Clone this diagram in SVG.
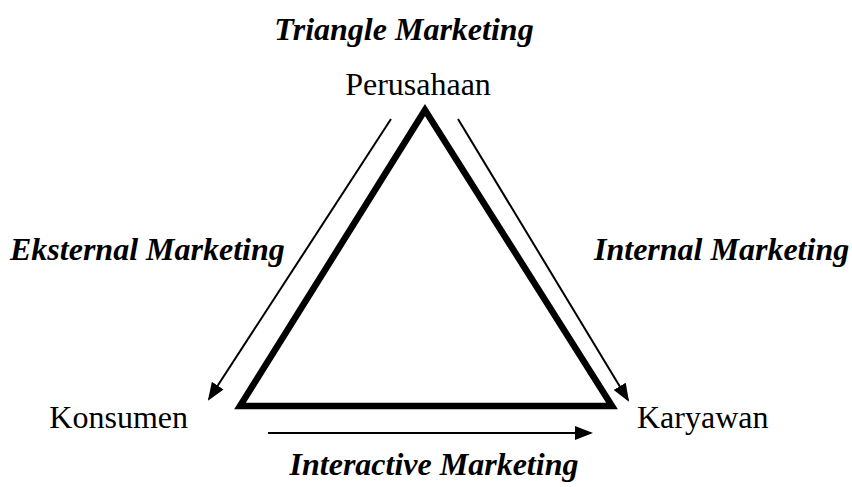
<svg xmlns="http://www.w3.org/2000/svg" width="852" height="487" viewBox="0 0 852 487">
  <style>
    .title { font-family: "Liberation Serif", "Times New Roman", serif; font-size: 32px; font-weight: bold; font-style: italic; fill: #000; }
    .label { font-family: "Liberation Serif", "Times New Roman", serif; font-size: 32px; fill: #000; }
    .arrow { stroke: #000; stroke-width: 2; fill: none; marker-end: url(#head); }
  </style>
  <defs>
    <marker id="head" markerWidth="9" markerHeight="7" refX="8" refY="3.5" orient="auto" markerUnits="strokeWidth">
      <path d="M0,0 L9,3.5 L0,7 Z" fill="#000"/>
    </marker>
  </defs>
  <rect width="852" height="487" fill="#fff"/>

  <text class="title" x="404" y="40" text-anchor="middle">Triangle Marketing</text>

  <!-- the triangle -->
  <g id="triangle">
    <polygon points="425,110 240,406 612,406" fill="none" stroke="#000" stroke-width="6.5" stroke-linejoin="miter"/>
  </g>

  <g id="perusahaan">
    <text class="label" x="418" y="95" text-anchor="middle">Perusahaan</text>
  </g>
  <g id="konsumen">
    <text class="label" x="188" y="428" text-anchor="end">Konsumen</text>
  </g>
  <g id="karyawan">
    <text class="label" x="637" y="428">Karyawan</text>
  </g>

  <!-- relationship arrows -->
  <g id="connectors">
    <line class="arrow" x1="391" y1="119" x2="209" y2="399"/>
    <line class="arrow" x1="458" y1="119" x2="628" y2="400"/>
    <line class="arrow" x1="268" y1="433" x2="591" y2="433"/>
  </g>

  <text class="title" x="10" y="260">Eksternal Marketing</text>
  <text class="title" x="594" y="260">Internal Marketing</text>
  <text class="title" x="434" y="475" text-anchor="middle">Interactive Marketing</text>
</svg>
